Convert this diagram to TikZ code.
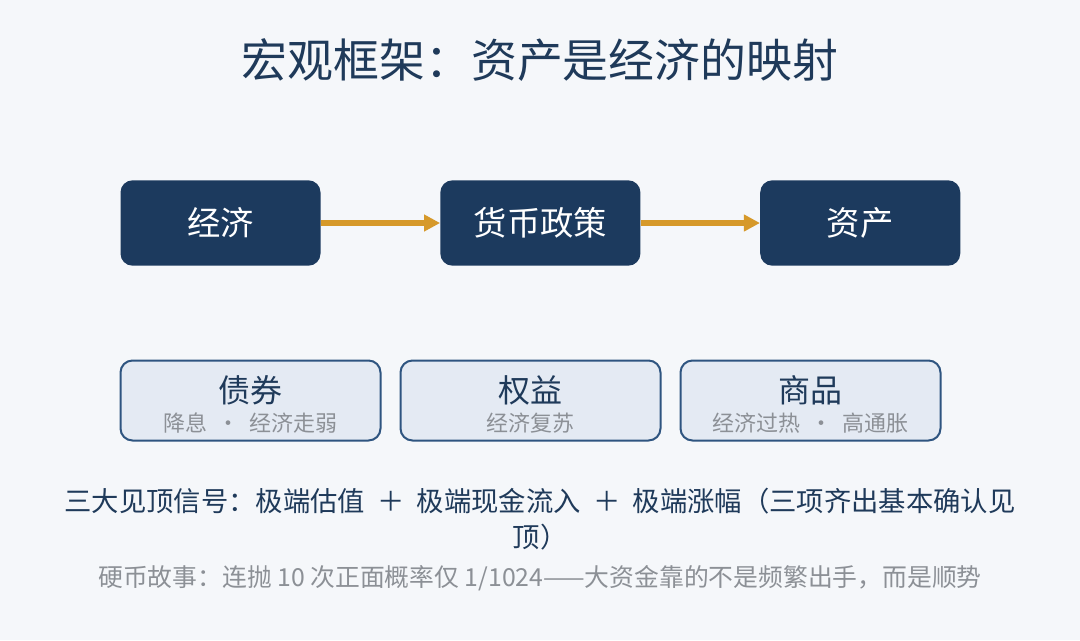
\documentclass[tikz,border=0pt]{standalone}
\usepackage{fontspec}
\usepackage{xcolor}
\newfontfamily\cjk{Noto Sans CJK SC}
\usetikzlibrary{positioning,arrows.meta}
\definecolor{bgcol}{HTML}{F5F7FA}
\definecolor{navy}{HTML}{1C3A5E}
\definecolor{inktxt}{HTML}{1F3A5A}
\definecolor{gold}{HTML}{D6992A}
\definecolor{pale}{HTML}{E4EAF3}
\definecolor{rim}{HTML}{2E5480}
\definecolor{greytxt}{HTML}{8C9096}
\newcommand{\gapsp}{\hspace{0.45em}}

\begin{document}
\begin{tikzpicture}[x=0.75pt,y=-0.75pt,font=\cjk,node distance=89.5pt,
  main node/.style={rectangle,rounded corners=9pt,fill=navy,text=white,minimum width=150pt,minimum height=64pt,inner sep=0pt,font=\cjk\fontsize{25}{30}\selectfont},
  asset node/.style={rectangle,rounded corners=9pt,draw=rim,line width=1.5pt,fill=pale,minimum width=195pt,minimum height=60pt,inner sep=0pt,align=center,text=inktxt}]
\tikzstyle{flow edge} = [draw,line width=4.5pt,gold,-{Triangle[length=12pt,width=12pt]}]
\tikzstyle{head text} = [text=inktxt,font=\cjk\fontsize{24}{28}\selectfont]
\tikzstyle{sub text} = [text=greytxt,font=\cjk\fontsize{16.5}{20}\selectfont]

% Background and title
\fill[bgcol] (0,0) rectangle (1080,640);
\node[text=inktxt,font=\cjk\fontsize{34.4}{40}\selectfont] (title) at (540,60) {宏观框架：资产是经济的映射};

% Chain
\node[main node] (econ) at (220.5,223) {经济};
\node[main node,right=of econ] (policy) {货币政策};
\node[main node,right=of policy] (asset) {资产};
\draw[flow edge] (econ) -- (policy);
\draw[flow edge] (policy) -- (asset);

% Asset classes
\node[asset node] (bond) at (250.5,400.5) {};
\node[asset node] (equity) at (530.5,400.5) {};
\node[asset node] (commod) at (810.5,400.5) {};
\node[head text] (bondt) at (250.5,390) {债券};
\node[sub text] (bonds) at (250.5,423) {降息\gapsp·\gapsp 经济走弱};
\node[head text] (equityt) at (530.5,390) {权益};
\node[sub text] (equitys) at (530.5,423) {经济复苏};
\node[head text] (commodt) at (810.5,390) {商品};
\node[sub text] (commods) at (810.5,423) {经济过热\gapsp·\gapsp 高通胀};

% Notes
\node[text=inktxt,align=center,font=\cjk\fontsize{20.5}{27}\selectfont] (signal) at (540,519)
  {三大见顶信号：极端估值\gapsp＋\gapsp 极端现金流入\gapsp＋\gapsp 极端涨幅（三项齐出基本确认见\\顶）};
\node[text=greytxt,font=\cjk\fontsize{18.6}{22}\selectfont] (coin) at (540,578)
  {硬币故事：连抛 10 次正面概率仅 1/1024——大资金靠的不是频繁出手，而是顺势};

\end{tikzpicture}
\end{document}
